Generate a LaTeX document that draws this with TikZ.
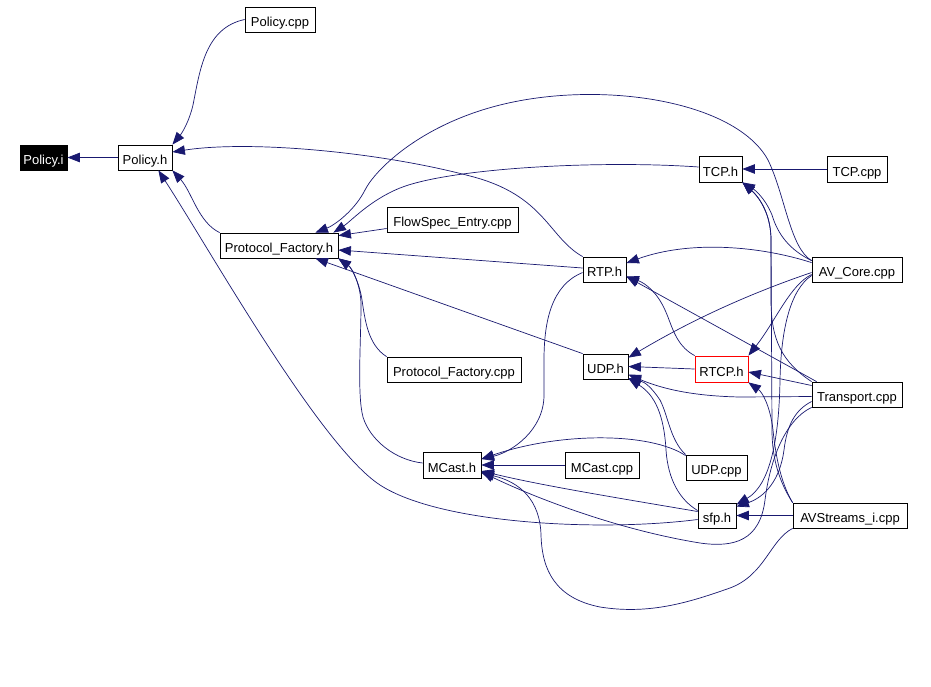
\documentclass[tikz,border=0pt]{standalone}
\usepackage{fontspec}
\setmainfont{Liberation Sans}
\usetikzlibrary{arrows.meta}
\definecolor{edgec}{RGB}{25,25,112}
\begin{document}
\begin{tikzpicture}[x=1pt,y=-1pt,
  box/.style={draw=black, line width=0.8pt, inner sep=0pt, minimum height=25pt, text height=14pt, text depth=0pt, fill=white, font=\fontsize{13}{15}\selectfont},
  edge/.style={draw=edgec, line width=0.7pt, arrows={-{Triangle[length=12.5pt,width=9.5pt,fill=edgec]}}}]
\useasboundingbox[fill=white] (0,0) rectangle (931,686);
% nodes
\node[box, fill=black, text=white, minimum width=47pt] (pi) at (43.5,157.5) {Policy.i};
\node[box, minimum width=54pt] (ph) at (145,157.5) {Policy.h};
\node[box, minimum width=70pt] (pcpp) at (280,19.5) {Policy.cpp};
\node[box, minimum width=118pt] (pfh) at (279,245.5) {Protocol\_Factory.h};
\node[box, minimum width=131pt] (fse) at (452.5,219.5) {FlowSpec\_Entry.cpp};
\node[box, minimum width=134pt] (pfcpp) at (454,369.5) {Protocol\_Factory.cpp};
\node[box, minimum width=43pt, minimum height=26pt] (tcph) at (720.5,169) {TCP.h};
\node[box, minimum width=60pt, minimum height=26pt] (tcpcpp) at (857,169) {TCP.cpp};
\node[box, minimum width=43pt] (rtph) at (604.5,269.5) {RTP.h};
\node[box, minimum width=90pt] (avcore) at (857,269.5) {AV\_Core.cpp};
\node[box, minimum width=45pt] (udph) at (605.5,366.5) {UDP.h};
\node[box, draw=red, minimum width=53pt, minimum height=26pt] (rtcph) at (721.5,369) {RTCP.h};
\node[box, minimum width=90pt] (transport) at (857,394.5) {Transport.cpp};
\node[box, minimum width=58pt, minimum height=26pt] (mcasth) at (452,465) {MCast.h};
\node[box, minimum width=74pt, minimum height=26pt] (mcastcpp) at (602,465) {MCast.cpp};
\node[box, minimum width=61pt] (udpcpp) at (716.5,467.5) {UDP.cpp};
\node[box, minimum width=38pt] (sfph) at (717,515.5) {sfp.h};
\node[box, minimum width=114pt] (avstreams) at (850,515.5) {AVStreams\_i.cpp};
% edges into Policy.i / Policy.h
\draw[edge] (ph.west) -- (pi.east);
\draw[edge] (pcpp.west) .. controls (205,28) and (200,70) .. (193,105) .. controls (189,122) and (182,133) .. (ph.north east);
\draw[edge] (pfh.north west) .. controls (198,222) and (192,192) .. (ph.south east);
\draw[edge] (rtph.north west) .. controls (548,237) and (545,195) .. (470,176) .. controls (380,152) and (250,140) .. ([yshift=5.5pt]ph.east);
\draw[edge] ([yshift=-4pt]sfph.west) .. controls (600,532) and (440,524) .. (380,485) .. controls (320,446) and (210,250) .. ([xshift=-14pt]ph.south east);
% edges into Protocol_Factory.h
\draw[edge] ([yshift=-4pt]avcore.north west) .. controls (790,248) and (785,195) .. (768,160) .. controls (735,100) and (600,80) .. (500,105) .. controls (420,125) and (375,170) .. (365,190) .. controls (355,210) and (335,225) .. ([xshift=-23pt]pfh.north east);
\draw[edge] ([yshift=2pt]tcph.west) .. controls (600,160) and (450,168) .. (400,188) .. controls (370,200) and (350,222) .. ([xshift=-5pt]pfh.north east);
\draw[edge] ([yshift=-9pt]fse.west) -- ([yshift=-3pt]pfh.north east);
\draw[edge] ([yshift=1.5pt]rtph.west) -- ([yshift=-4.5pt]pfh.east);
\draw[edge] (udph.north west) -- ([xshift=-23pt]pfh.south east);
\draw[edge] (pfcpp.north west) .. controls (368,345) and (365,320) .. (362,300) .. controls (360,285) and (352,268) .. (pfh.south east);
\draw[edge] ([yshift=2pt]mcasth.west) .. controls (395,460) and (370,440) .. (363,417) .. controls (357,395) and (361,340) .. (361,305) .. controls (361,285) and (352,268) .. (pfh.south east);
% edges into TCP.h
\draw[edge] (tcpcpp.west) -- (tcph.east);
\draw[edge] ([yshift=-4pt]avcore.north west) .. controls (790,250) and (778,235) .. (772,215) .. controls (765,198) and (755,190) .. (tcph.south east);
\draw[edge] (transport.north west) .. controls (782,362) and (771,340) .. (771,300) -- (771,240) .. controls (771,215) and (760,198) .. (tcph.south east);
\draw[edge] (avstreams.north west) .. controls (780,483) and (772,460) .. (772,430) -- (771,240) .. controls (771,215) and (760,198) .. (tcph.south east);
% edges into RTP.h
\draw[edge] ([yshift=-6pt]avcore.north west) .. controls (760,246) and (690,240) .. ([yshift=6.5pt]rtph.east);
\draw[edge] ([xshift=5pt]transport.north west) -- ([yshift=-7pt]rtph.east);
\draw[edge] (rtcph.north west) .. controls (675,345) and (672,325) .. (665,310) .. controls (657,292) and (645,283) .. ([yshift=-7pt]rtph.east);
% edges into UDP.h
\draw[edge] ([yshift=-3pt]avcore.west) .. controls (760,290) and (700,315) .. ([yshift=-4pt]udph.north east);
\draw[edge] (rtcph.west) -- (udph.east);
\draw[edge] ([yshift=-2pt]transport.west) -- (740,397) .. controls (690,396) and (660,388) .. ([yshift=-8pt]udph.east);
\draw[edge] (udpcpp.north west) .. controls (670,440) and (668,415) .. (660,400) .. controls (652,388) and (645,382) .. ([yshift=1pt]udph.south east);
\draw[edge] ([yshift=5pt]sfph.west) .. controls (680,500) and (668,480) .. (666,450) .. controls (664,415) and (655,395) .. ([yshift=1pt]udph.south east);
% edges into RTCP.h
\draw[edge] ([yshift=-5pt]avcore.west) .. controls (790,285) and (775,322) .. (rtcph.north east);
\draw[edge] ([yshift=9pt]transport.west) -- ([yshift=-3pt]rtcph.east);
\draw[edge] (avstreams.north west) .. controls (782,485) and (776,460) .. (773,430) .. controls (770,405) and (762,392) .. (rtcph.south east);
% edges into sfp.h
\draw[edge] ([yshift=-6pt]avcore.west) .. controls (790,290) and (781,330) .. (780,380) .. controls (779,440) and (770,485) .. ([yshift=-2pt]sfph.north east);
\draw[edge] ([yshift=-7pt]transport.west) .. controls (795,410) and (787,425) .. (784,450) .. controls (780,480) and (765,497) .. ([yshift=-4pt]sfph.north east);
\draw[edge] (avstreams.west) -- (sfph.east);
% edges into MCast.h
\draw[edge] ([yshift=-3pt]rtph.west) .. controls (552,285) and (544,320) .. (544,360) -- (544,395) .. controls (544,430) and (512,452) .. ([yshift=6pt]mcasth.east);
\draw[edge] (mcastcpp.west) -- (mcasth.east);
\draw[edge] ([yshift=-1pt]udpcpp.north west) .. controls (650,432) and (560,432) .. ([yshift=6pt]mcasth.east);
\draw[edge] ([yshift=4pt]sfph.west) .. controls (600,495) and (540,485) .. ([yshift=-6pt]mcasth.east);
\draw[edge] (transport.south west) .. controls (785,420) and (770,460) .. (765,500) .. controls (760,540) and (735,548) .. (700,543) .. controls (620,530) and (540,500) .. ([yshift=-7pt]mcasth.east);
\draw[edge] (avstreams.south west) .. controls (770,540) and (765,575) .. (730,588) .. controls (690,602) and (650,615) .. (600,607) .. controls (555,598) and (542,570) .. (541,535) .. controls (540,500) and (520,482) .. ([yshift=-8pt]mcasth.east);
\end{tikzpicture}
\end{document}
